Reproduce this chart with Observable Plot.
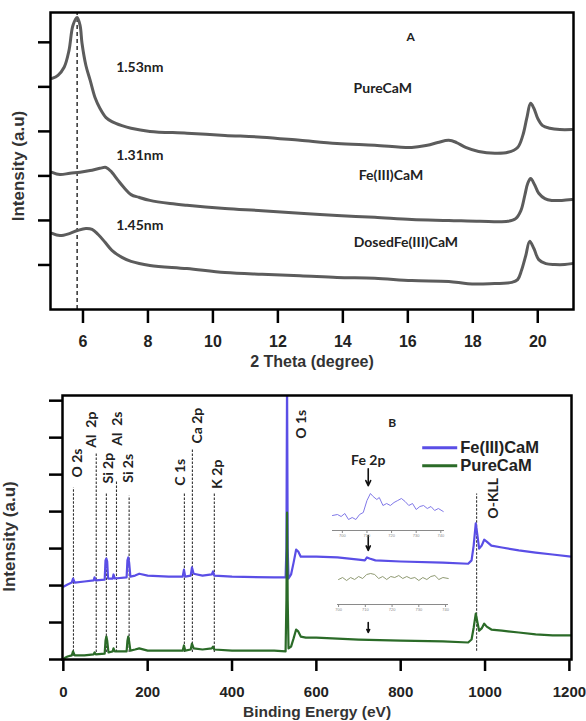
<!DOCTYPE html>
<html><head><meta charset="utf-8">
<script src="https://cdn.jsdelivr.net/npm/d3@7"></script>
<script src="https://cdn.jsdelivr.net/npm/@observablehq/plot@0.6"></script>
<style>
body{margin:0;background:#fff;}
#wrap{position:relative;width:586px;height:721px;background:#fff;}
#wrap svg{display:block;}
.inset{position:absolute;}
</style></head>
<body><div id="wrap"></div>
<script>
// ---------- Panel A : XRD ----------
const thetaPure = [5.05,5.23,5.42,5.57,5.69,5.82,5.91,5.97,6.09,6.22,6.37,6.52,6.71,6.89,7.2,7.48,8.06,9.2,10.37,11.51,12.68,13.82,14.98,16.12,16.6,16.92,17.26,17.5,17.78,18.18,18.68,19.08,19.38,19.54,19.66,19.78,19.88,20.0,20.15,20.37,20.68,21.05];
const intPure = [5.19,5.26,5.44,5.82,6.38,6.56,6.38,5.98,5.48,5.15,4.76,4.52,4.31,4.22,4.13,4.07,4.0,3.96,3.91,3.87,3.8,3.73,3.69,3.64,3.69,3.75,3.8,3.75,3.64,3.55,3.51,3.53,3.64,3.91,4.29,4.63,4.52,4.29,4.13,4.07,4.04,4.04];
const thetaFe = [5.05,5.29,5.6,5.91,6.22,6.52,6.71,6.89,7.08,7.26,7.48,7.72,8.06,8.68,9.2,10.37,11.51,12.68,13.82,14.98,16.12,17.26,18.22,19.08,19.32,19.48,19.6,19.69,19.78,19.91,20.03,20.22,20.43,20.74,21.05];
const intFe = [3.08,3.03,3.06,3.08,3.12,3.17,3.19,3.08,2.9,2.74,2.58,2.52,2.45,2.38,2.34,2.27,2.22,2.16,2.11,2.07,2.02,2.0,1.98,1.98,2.04,2.22,2.56,2.83,2.94,2.79,2.61,2.49,2.45,2.45,2.47];
const thetaDosed = [5.05,5.29,5.6,5.85,6.09,6.28,6.46,6.68,6.89,7.2,7.48,8.06,9.2,10.37,11.51,12.68,13.82,14.98,16.12,17.26,17.85,18.52,19.2,19.38,19.5,19.63,19.75,19.88,20.03,20.25,20.52,20.83,21.05];
const intDosed = [1.71,1.66,1.71,1.78,1.82,1.8,1.69,1.51,1.33,1.17,1.08,0.99,0.92,0.83,0.79,0.76,0.72,0.7,0.65,0.63,0.58,0.58,0.61,0.67,0.88,1.21,1.53,1.37,1.12,1.03,1.01,1.01,1.03];
const xTicksA = [6,8,10,12,14,16,18,20];
const yTicksA = [1,2,3,4,5,6];
const dashThetaA = 5.82;
const labelsA = ["1.53nm","PureCaM","1.31nm","Fe(III)CaM","1.45nm","DosedFe(III)CaM"];
const labelsAX = [7.75,15.23,7.75,15.48,7.75,15.94];
const labelsAY = [5.44,4.97,3.46,3.01,1.89,1.51];

// ---------- Panel B : XPS ----------
const eFe = [0,10,20,23,27,50,72,74,77,98,100,102,104,106,117,119,122,150,152,154,156,159,170,180,200,250,283,286,289,302,305,309,330,352,355,358,400,500,527,529,530.5,532,534,540,546,552,557,563,575,600,650,700,715,720,726,740,800,900,960,968,973,978,982,986,992,998,1004,1015,1040,1080,1120,1160,1205];
const iFe = [1.97,2.03,2.08,2.19,2.08,2.11,2.14,2.22,2.14,2.16,2.68,2.73,2.65,2.19,2.19,2.3,2.19,2.22,2.68,2.76,2.62,2.24,2.27,2.32,2.27,2.24,2.24,2.43,2.24,2.27,2.49,2.32,2.27,2.3,2.38,2.27,2.24,2.22,2.22,3.0,7.6,3.0,2.19,2.3,2.62,2.97,2.92,2.78,2.78,2.78,2.76,2.7,2.68,2.76,2.73,2.68,2.65,2.62,2.59,2.68,3.08,3.68,3.35,3.0,3.08,3.24,3.19,3.08,3.03,2.95,2.89,2.84,2.78];
const ePure = [0,4,10,20,23,27,50,72,74,77,98,100,102,104,107,117,119,122,150,152,154,156,159,170,180,200,250,283,286,289,302,305,309,330,352,355,358,400,500,527,529,530.5,532,534,540,546,552,557,563,575,600,700,800,900,960,968,973,978,982,986,992,998,1004,1015,1040,1080,1120,1160,1205];
const iPure = [0.0,0.05,0.08,0.11,0.22,0.11,0.11,0.14,0.19,0.14,0.16,0.51,0.62,0.51,0.19,0.22,0.3,0.22,0.22,0.51,0.62,0.49,0.24,0.27,0.3,0.24,0.24,0.24,0.38,0.24,0.27,0.43,0.3,0.27,0.3,0.35,0.27,0.24,0.24,0.22,1.6,3.97,1.6,0.3,0.35,0.57,0.81,0.76,0.62,0.59,0.59,0.54,0.51,0.49,0.46,0.54,0.86,1.24,1.0,0.78,0.84,0.97,0.89,0.81,0.78,0.73,0.68,0.65,0.65];
const xTicksB = [0,200,400,600,800,1000,1200];
const yTicksB = [0,1,2,3,4,5,6,7];
const peakNames = ["O 2s","Al  2p","Si 2p","Al  2s","Si 2s","C 1s","Ca 2p","K 2p","O-KLL"];
const peakE = [24,78,102,126,156,287,306,358,980];
const dashTop = [4.65,5.59,4.49,4.84,4.43,4.49,5.70,4.49,4.49];
const dashBottom = [0.1,0.2,0.2,0.2,0.2,0.2,0.2,0.2,0.24];
const labelB = ["O 2s","Al  2p","Si 2p","Al  2s","Si 2s","C 1s","Ca 2p","K 2p","O 1s","O-KLL"];
const labelBE = [33,66,107,128,154,277,318,365,564,1020];
const labelBY = [4.92,5.73,4.76,5.78,4.78,4.70,5.84,4.62,5.97,3.81];
const seriesB = ["Fe(III)CaM","PureCaM"];
const colorsB = ["#5a4ee6","#2b6b28"];
const legendY = [5.73,5.24];
const fe2pE = 723;
const arrowY1 = [5.16,3.35,1.0];
const arrowY2 = [4.70,2.95,0.73];

// Fe 2p insets
const insetEFe = [696,698,699.5,701,702.5,704,705.5,707,708.5,710,711.4,712.5,714,715,716.5,718,719.5,721,722.5,724,725.5,727,728.5,730,731.5,733,734.5,736,737.5,739,741];
const insetIFe = [15,16,14,17,11,13,11,16,18,30,37,34,31,33,25,27,25,28,30,32,29,25,27,21,24,25,22,24,20,22,19];
const insetEPure = [700,701.5,703,704.5,706,707.5,709,710.5,712,713.5,715,716.5,718,719.5,721,722.5,724,725.5,727,728.5,730,731.5,733,734.5,736,737.5,739,741];
const insetIPure = [25,27,24,27,25,28,26,30,31,30,26,28,25,28,27,29,26,28,26,27,24,27,25,28,29,25,27,26];
const insetTicks = [700,710,720,730,740];

const zip = (xs, ys) => xs.map((x, i) => ({x, y: ys[i]}));
const wrap = document.getElementById("wrap");
const tickFont = "'Liberation Sans', Arial, sans-serif";
const annFont = "Lato, 'Open Sans', sans-serif";

const plotA = Plot.plot({
  width: 586, height: 370,
  marginLeft: 50, marginRight: 13, marginTop: 12, marginBottom: 61,
  x: {domain: [5, 21.1]},
  y: {domain: [0, 6.67]},
  style: {fontFamily: tickFont, fontWeight: "bold", fontSize: "16px", color: "#222", background: "white"},
  marks: [
    Plot.ruleX([dashThetaA], {y1: 0, y2: 6.67, stroke: "#222", strokeWidth: 1.4, strokeDasharray: "4,3"}),
    Plot.line(zip(thetaPure, intPure), {x: "x", y: "y", stroke: "#5c5c5c", strokeWidth: 3, curve: "catmull-rom"}),
    Plot.line(zip(thetaFe, intFe), {x: "x", y: "y", stroke: "#5c5c5c", strokeWidth: 3, curve: "catmull-rom"}),
    Plot.line(zip(thetaDosed, intDosed), {x: "x", y: "y", stroke: "#5c5c5c", strokeWidth: 3, curve: "catmull-rom"}),
    Plot.text(labelsA, {x: (d, i) => labelsAX[i], y: (d, i) => labelsAY[i], fontFamily: annFont, fontSize: 14, fontWeight: "bold", fill: "#222"}),
    Plot.text(["A"], {x: [16.09], y: [6.11], fontFamily: annFont, fontSize: 12, fontWeight: "bold", fill: "#222"}),
    Plot.axisX({ticks: xTicksA, tickSize: 14, tickPadding: 12, strokeWidth: 2.5, stroke: "#000", label: null, fontSize: 16}),
    Plot.axisY({ticks: yTicksA, tickSize: 12, tickFormat: () => "", strokeWidth: 2.5, stroke: "#000", label: null}),
    Plot.frame({stroke: "#000", strokeWidth: 2.5}),
    Plot.text(["2 Theta (degree)"], {frameAnchor: "bottom", lineAnchor: "middle", textAnchor: "middle", dy: 52, fontSize: 16, fontWeight: "bold", fill: "#333"}),
    Plot.text(["Intensity (a.u)"], {frameAnchor: "left", rotate: -90, textAnchor: "middle", lineAnchor: "middle", dx: -32, dy: 5, fontSize: 17, fontWeight: "bold", fill: "#333"})
  ]
});
wrap.appendChild(plotA);

const plotB = Plot.plot({
  width: 586, height: 351,
  marginLeft: 62, marginRight: 15, marginTop: 25, marginBottom: 62,
  x: {domain: [-2, 1205]},
  y: {domain: [0, 7.14]},
  style: {fontFamily: tickFont, fontWeight: "bold", fontSize: "15px", color: "#222", background: "white"},
  marks: [
    Plot.link(peakNames, {x1: (d, i) => peakE[i], x2: (d, i) => peakE[i], y1: (d, i) => dashBottom[i], y2: (d, i) => dashTop[i], stroke: "#333", strokeWidth: 1.1, strokeDasharray: "2.5,1.5"}),
    Plot.line(zip(eFe, iFe), {x: "x", y: "y", stroke: colorsB[0], strokeWidth: 2.2, clip: true}),
    Plot.line(zip(ePure, iPure), {x: "x", y: "y", stroke: colorsB[1], strokeWidth: 2.2, clip: true}),
    Plot.text(labelB, {x: (d, i) => labelBE[i], y: (d, i) => labelBY[i], rotate: -90, textAnchor: "start", fontFamily: annFont, fontSize: 14, fontWeight: "bold", fill: "#222"}),
    Plot.text(["B"], {x: [780], y: [6.4], fontFamily: annFont, fontSize: 12, fontWeight: "bold", fill: "#222"}),
    Plot.text(["Fe 2p"], {x: [fe2pE], y: [5.38], fontFamily: annFont, fontSize: 14, fontWeight: "bold", fill: "#222"}),
    Plot.arrow(arrowY1, {x1: fe2pE, x2: fe2pE, y1: (d) => d, y2: (d, i) => arrowY2[i], stroke: "#111", strokeWidth: 1.6, headLength: 8, headAngle: 50}),
    Plot.link(seriesB, {x1: 851, x2: 934, y1: (d, i) => legendY[i], y2: (d, i) => legendY[i], stroke: (d, i) => colorsB[i], strokeWidth: 3}),
    Plot.text(seriesB, {x: 941, y: (d, i) => legendY[i], textAnchor: "start", fontSize: 16.5, fontWeight: "bold", fill: "#222"}),
    Plot.axisX({ticks: xTicksB, tickFormat: (d) => String(d), tickSize: 12, tickPadding: 15, strokeWidth: 2.5, stroke: "#000", label: null, fontSize: 15}),
    Plot.axisY({ticks: yTicksB, tickSize: 13, tickFormat: () => "", strokeWidth: 2.5, stroke: "#000", label: null}),
    Plot.frame({stroke: "#000", strokeWidth: 2.5}),
    Plot.text(["Binding Energy (eV)"], {frameAnchor: "bottom", lineAnchor: "middle", textAnchor: "middle", dy: 53, fontSize: 15.5, fontWeight: "bold", fill: "#333"}),
    Plot.text(["Intensity (a.u)"], {frameAnchor: "left", rotate: -90, textAnchor: "middle", lineAnchor: "middle", dx: -53, dy: 9, fontSize: 17, fontWeight: "bold", fill: "#333"})
  ]
});
wrap.appendChild(plotB);

function inset(es, is, color, domainX, yMax, left, top, width) {
  const p = Plot.plot({
    width, height: yMax + 12,
    marginLeft: 4, marginRight: 4, marginTop: 2, marginBottom: 10,
    x: {domain: domainX, axis: null},
    y: {domain: [0, yMax], axis: null},
    style: {fontFamily: tickFont, fontSize: "4px", background: "transparent", overflow: "visible"},
    marks: [
      Plot.ruleY([0], {stroke: "#8a8a8a", strokeWidth: 1}),
      Plot.axisX({ticks: insetTicks, tickSize: 3, tickPadding: 1, stroke: "#8a8a8a", fill: "#8a8a8a", label: null, fontSize: 4}),
      Plot.line(zip(es, is), {x: "x", y: "y", stroke: color, strokeWidth: 1})
    ]
  });
  p.classList.add("inset");
  p.style.left = left + "px";
  p.style.top = top + "px";
  wrap.appendChild(p);
}
inset(insetEFe, insetIFe, "#8078e8", [696, 741.5], 40, 328, 488, 120);
inset(insetEPure, insetIPure, "#8f9a72", [699.6, 741.1], 35, 333, 567, 119);
</script></body></html>
